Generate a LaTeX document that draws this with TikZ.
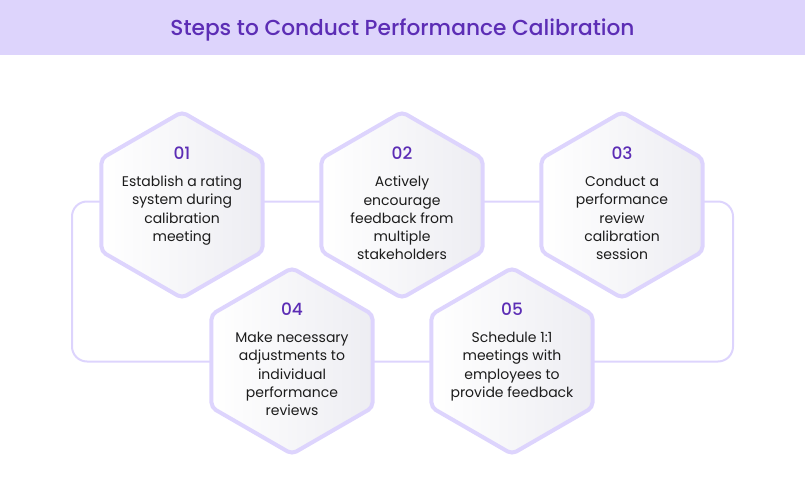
\documentclass[tikz,border=0pt]{standalone}
\usepackage{fontspec}
\setmainfont{Poppins}
\newfontfamily\semifont{Poppins Medium}
\usetikzlibrary{shapes.geometric, positioning, calc}

\definecolor{bandlilac}{HTML}{DDD4FC}
\definecolor{titlepurple}{HTML}{5C2DB5}
\definecolor{edgelilac}{HTML}{DDD4FD}
\definecolor{hexgray}{HTML}{EDEDF2}
\definecolor{bodyink}{HTML}{1C1C1C}

\tikzset{
  hexa/.style={shape=regular polygon, regular polygon sides=6, shape border rotate=30,
    minimum size=186pt, inner sep=0pt, draw=edgelilac, line width=4pt,
    rounded corners=5pt, left color=white, right color=hexgray},
  stepno/.style={text=titlepurple, font=\fontsize{17}{18}\selectfont\semifont},
  steptext/.style={text=bodyink, font=\fontsize{14}{18.3}\selectfont, align=center, inner sep=0pt},
  loopline/.style={draw=edgelilac, line width=2pt, rounded corners=15pt}
}

\begin{document}
\begin{tikzpicture}[x=1pt,y=-1pt]
    \useasboundingbox (0,0) rectangle (805,492);
    \fill[bandlilac] (0,0) rectangle (805,55);
    \node[text=titlepurple, font=\fontsize{21.7}{24}\selectfont\semifont] (title) at (402.5,29.5) {Steps to Conduct Performance Calibration};

    % loop behind the hexagons
    \coordinate (loopnw) at (72,201.5);
    \coordinate (loopse) at (733,361.5);
    \draw[loopline] (loopnw) rectangle (loopse);

    \node[hexa] (h1) at (182,205) {};
    \node[hexa] (h2) at (402,205) {};
    \node[hexa] (h3) at (622,205) {};
    \node[hexa] (h4) at (292,361) {};
    \node[hexa] (h5) at (512,361) {};

    \node[stepno] (n1) at ($(h1)+(0,-52)$) {01};
    \node[stepno] (n2) at ($(h2)+(0,-52)$) {02};
    \node[stepno] (n3) at ($(h3)+(0,-52)$) {03};
    \node[stepno] (n4) at ($(h4)+(0,-52)$) {04};
    \node[stepno] (n5) at ($(h5)+(0,-52)$) {05};

    \node[steptext, below=13pt of n1] (t1) {Establish a rating\\system during\\calibration\\meeting};
    \node[steptext, below=13pt of n2] (t2) {Actively\\encourage\\feedback from\\multiple\\stakeholders};
    \node[steptext, below=13pt of n3] (t3) {Conduct a\\performance\\review\\calibration\\session};
    \node[steptext, below=13pt of n4] (t4) {Make necessary\\adjustments to\\individual\\performance\\reviews};
    \node[steptext, below=13pt of n5] (t5) {Schedule 1:1\\meetings with\\employees to\\provide feedback};
\end{tikzpicture}
\end{document}
